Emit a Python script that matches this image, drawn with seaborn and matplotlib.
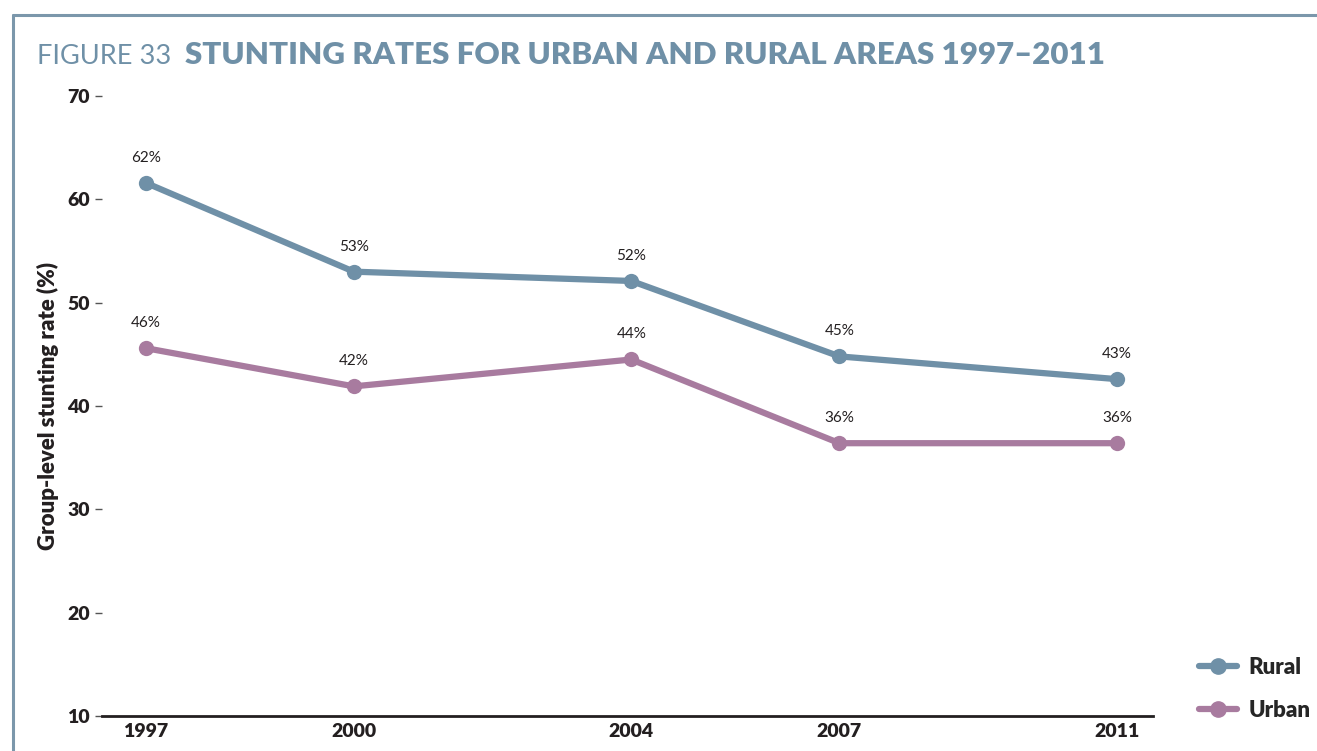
import pandas as pd
import matplotlib.pyplot as plt
import seaborn as sns
from matplotlib.lines import Line2D

# datos
years = [1997, 2000, 2004, 2007, 2011]
rural = [61.6, 53.0, 52.1, 44.8, 42.6]
urban = [45.6, 41.9, 44.5, 36.4, 36.4]
rural_labels = ["62%", "53%", "52%", "45%", "43%"]
urban_labels = ["46%", "42%", "44%", "36%", "36%"]
yticks = [10, 20, 30, 40, 50, 60, 70]

df = pd.DataFrame({
    "year": years * 2,
    "rate": rural + urban,
    "area": ["Rural"] * len(years) + ["Urban"] * len(years),
})

sns.set_theme(style="white")
plt.rcParams["font.family"] = ["Lato", "DejaVu Sans"]

blue = "#6f90a7"
purple = "#a87b9f"
frame = "#7b97ab"
dark = "#231f20"
heavy = "heavy"

fig = plt.figure(figsize=(13.17, 7.51), dpi=100)
ax = fig.add_axes([102 / 1317, 1 - 716 / 751, (1153 - 102) / 1317, (716 - 96) / 751])

sns.lineplot(data=df, x="year", y="rate", hue="area", palette=[blue, purple],
             marker="o", markersize=11, markeredgewidth=0, linewidth=4.5, ax=ax)

for x, y, t in zip(years, rural, rural_labels):
    ax.annotate(t, (x, y), xytext=(0, 13), textcoords="offset points",
                ha="center", va="bottom", fontsize=11, color=dark)
for x, y, t in zip(years, urban, urban_labels):
    ax.annotate(t, (x, y), xytext=(0, 13), textcoords="offset points",
                ha="center", va="bottom", fontsize=11, color=dark)

ax.set_xlim(1996.37, 2011.52)
ax.set_ylim(10, 70)
ax.set_xticks(years)
ax.set_xticklabels([str(y) for y in years], fontsize=14, fontweight=heavy, color=dark)
ax.set_yticks(yticks)
ax.set_yticklabels([str(v) for v in yticks], fontsize=14, fontweight=heavy, color=dark)
ax.tick_params(axis="y", which="major", direction="out", length=5, width=1,
               color="#555555", pad=4, left=True)
ax.tick_params(axis="x", length=0, pad=5)
for s in ["top", "right", "left"]:
    ax.spines[s].set_visible(False)
ax.spines["bottom"].set_color(dark)
ax.spines["bottom"].set_linewidth(2)
ax.set_xlabel("")
ax.set_ylabel("Group-level stunting rate (%)", fontsize=16, fontweight=heavy,
              color=dark, labelpad=6)

handles = [Line2D([], [], color=blue, lw=4.5, marker="o", markersize=11),
           Line2D([], [], color=purple, lw=4.5, marker="o", markersize=11)]
ax.legend(handles, ["Rural", "Urban"], loc="lower left", bbox_to_anchor=(1.025, -0.04),
          frameon=False, handlelength=1.7, handletextpad=0.5, labelspacing=1.0,
          prop={"weight": heavy, "size": 16})

# marco de la figura
fig.add_artist(Line2D([13 / 1317, 1], [1 - 15 / 751, 1 - 15 / 751],
                      transform=fig.transFigure, color=frame, lw=2.2))
fig.add_artist(Line2D([13 / 1317, 13 / 1317], [0, 1 - 15 / 751],
                      transform=fig.transFigure, color=frame, lw=2.2))

# título en dos partes
t1 = fig.text(37 / 1317, 1 - 64 / 751, "FIGURE 33", fontsize=19.5, color=blue,
              fontweight="normal", va="baseline")
fig.canvas.draw()
bb = t1.get_window_extent()
fig.text((bb.x1 + 14) / 1317, 1 - 64 / 751, "STUNTING RATES FOR URBAN AND RURAL AREAS 1997\u20132011",
         fontsize=22.5, color=blue, fontweight=heavy, va="baseline")

fig.savefig("out.png", dpi=100)
